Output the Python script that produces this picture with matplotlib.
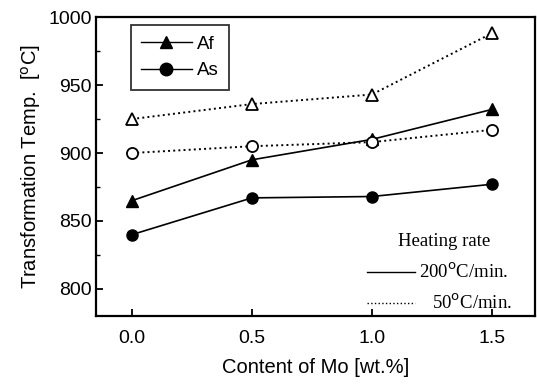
# Transformation temperature vs Mo content, two heating rates.
import matplotlib
matplotlib.use("Agg")
import matplotlib.pyplot as plt
from matplotlib.lines import Line2D

mo = [0.0, 0.5, 1.0, 1.5]
af_200 = [865, 895, 910, 932]
as_200 = [840, 867, 868, 877]
af_50 = [925, 936, 943, 988]
as_50 = [900, 905, 908, 917]

plt.rcParams["font.family"] = ["Liberation Sans", "DejaVu Sans"]

fig = plt.figure(figsize=(5.37, 3.87), dpi=100)
ax = fig.add_axes([0.179, 0.183, 0.817, 0.773])

ms = 8
ax.plot(mo, af_200, "-", color="black", lw=1.2, marker="^", ms=ms)
ax.plot(mo, as_200, "-", color="black", lw=1.2, marker="o", ms=ms)
ax.plot(mo, af_50, ":", color="black", lw=1.4, marker="^", ms=ms,
        mfc="white", mew=1.3)
ax.plot(mo, as_50, ":", color="black", lw=1.4, marker="o", ms=ms,
        mfc="white", mew=1.3)

ax.set_xlim(-0.15, 1.68)
ax.set_ylim(780, 1000)
ax.set_xticks([0.0, 0.5, 1.0, 1.5])
ax.set_yticks([800, 850, 900, 950, 1000])
ax.set_yticks([825, 875, 925, 975], minor=True)
ax.tick_params(direction="in", labelsize=14, length=5, width=1.3)
ax.tick_params(axis="x", pad=10)
ax.tick_params(axis="y", pad=3)
ax.tick_params(which="minor", direction="in", length=3, width=1)
for s in ax.spines.values():
    s.set_linewidth(1.6)

ax.set_xlabel("Content of Mo [wt.%]", fontsize=14.5, labelpad=8)
ax.set_ylabel("Transformation Temp.  [$^{\\rm o}$C]", fontsize=14.5,
              labelpad=4)

handles = [
    Line2D([], [], color="black", lw=1, marker="^", ms=ms + 1),
    Line2D([], [], color="black", lw=1, marker="o", ms=ms + 1),
]
leg = ax.legend(handles, ["Af", "As"], loc="upper left",
                bbox_to_anchor=(0.07, 0.985), fancybox=False,
                edgecolor="black", handlelength=2.7, fontsize=13.5,
                borderpad=0.55, labelspacing=0.5, handletextpad=0.3,
                borderaxespad=0.2)
leg.get_frame().set_linewidth(1.3)

serif = ["Liberation Serif", "DejaVu Serif"]
ax.text(0.793, 0.25, "Heating rate", transform=ax.transAxes,
        fontsize=13.5, family=serif, ha="center", va="center")
ax.plot([0.617, 0.727], [0.147, 0.147], transform=ax.transAxes,
        color="black", lw=1)
ax.text(0.737, 0.147, "200$^{\\rm o}$C/min.", transform=ax.transAxes,
        fontsize=13.5, family=serif, va="center")
ax.plot([0.617, 0.727], [0.043, 0.043], transform=ax.transAxes,
        color="black", lw=1, ls=":")
ax.text(0.765, 0.043, "50$^{\\rm o}$C/min.", transform=ax.transAxes,
        fontsize=13.5, family=serif, va="center")

fig.savefig("out.png", dpi=100)
